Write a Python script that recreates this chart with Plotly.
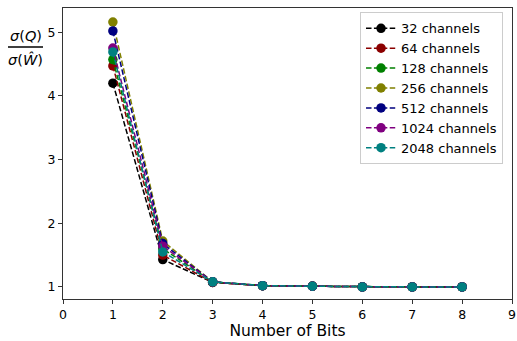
import plotly.graph_objects as go

bits = [1, 2, 3, 4, 5, 6, 7, 8]
series_names = ["32 channels", "64 channels", "128 channels", "256 channels",
                "512 channels", "1024 channels", "2048 channels"]
colors = ["black", "#8b0000", "green", "olive", "navy", "purple", "teal"]
ch32 = [4.20, 1.43, 1.07, 1.02, 1.01, 1.00, 1.00, 1.00]
ch64 = [4.47, 1.50, 1.07, 1.02, 1.01, 1.00, 1.00, 1.00]
ch128 = [4.57, 1.60, 1.08, 1.02, 1.01, 1.00, 1.00, 1.00]
ch256 = [5.16, 1.72, 1.08, 1.02, 1.01, 1.00, 1.00, 1.00]
ch512 = [5.02, 1.68, 1.08, 1.02, 1.01, 1.00, 1.00, 1.00]
ch1024 = [4.75, 1.64, 1.08, 1.02, 1.01, 1.00, 1.00, 1.00]
ch2048 = [4.69, 1.55, 1.08, 1.02, 1.01, 1.00, 1.00, 1.00]
all_series = [ch32, ch64, ch128, ch256, ch512, ch1024, ch2048]

fig = go.Figure()
for name, col, vals in zip(series_names, colors, all_series):
    fig.add_trace(go.Scatter(
        x=bits, y=vals, name=name, mode="lines+markers",
        line=dict(color=col, dash="5.5px,2.4px", width=1.5),
        marker=dict(color=col, size=9.5),
    ))

font = "DejaVu Sans"
axcol = "#333333"
fig.update_layout(
    width=517, height=341,
    margin=dict(l=63, r=5, t=8, b=42, autoexpand=False),
    paper_bgcolor="white", plot_bgcolor="white",
    font=dict(family=font, size=12.5, color="black"),
    showlegend=True,
    legend=dict(x=0.98, y=0.985, xanchor="right", yanchor="top",
                bgcolor="rgba(255,255,255,0.8)", bordercolor="#cccccc", borderwidth=1,
                font=dict(size=13), tracegroupgap=0, itemwidth=30),
    xaxis=dict(range=[0, 9], tickmode="array", tickvals=list(range(0, 10)),
               ticks="outside", ticklen=4, tickcolor=axcol,
               showline=True, linecolor=axcol, linewidth=1, mirror=True,
               showgrid=False, zeroline=False,
               title=dict(text="Number of Bits", font=dict(size=15.5), standoff=4),
               tickfont=dict(size=12.5)),
    yaxis=dict(range=[0.81, 5.38], tickmode="array", tickvals=[1, 2, 3, 4, 5],
               ticks="outside", ticklen=4, tickcolor=axcol,
               showline=True, linecolor=axcol, linewidth=1, mirror=True,
               showgrid=False, zeroline=False, tickfont=dict(size=12.5)),
)

fig.add_annotation(xref="paper", yref="paper", x=-0.083, y=0.905,
                   xanchor="center", yanchor="middle", showarrow=False,
                   text="<i>σ</i>(<i>Q</i>)", font=dict(size=14.5, family=font))
fig.add_annotation(xref="paper", yref="paper", x=-0.083, y=0.822,
                   xanchor="center", yanchor="middle", showarrow=False,
                   text="<i>σ</i>(<i>Ŵ</i>)", font=dict(size=14.5, family=font))
fig.add_shape(type="line", xref="paper", yref="paper", x0=-0.1225, x1=-0.0445,
              y0=0.866, y1=0.866, line=dict(color="black", width=1.5))

fig.write_html("out.html", config={"displayModeBar": False},
               post_script="document.body.style.margin='0';document.body.style.overflow='hidden';")
